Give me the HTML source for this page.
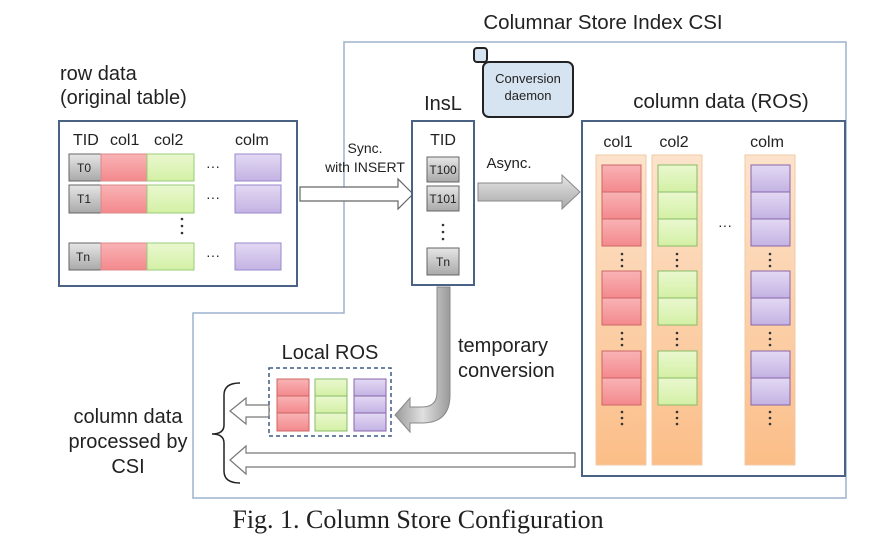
<!DOCTYPE html>
<html><head><meta charset="utf-8"><style>
body{margin:0;background:#fff}
svg{display:block}
text{font-family:"Liberation Sans",sans-serif;fill:#222}
</style></head><body>
<svg width="874" height="552" viewBox="0 0 874 552">
<defs>
<linearGradient id="r" x1="0" y1="0" x2="0" y2="1"><stop offset="0" stop-color="#f9b3b5"/><stop offset="1" stop-color="#f3898d"/></linearGradient>
<linearGradient id="g" x1="0" y1="0" x2="0" y2="1"><stop offset="0" stop-color="#eaf8cf"/><stop offset="1" stop-color="#d3f0a5"/></linearGradient>
<linearGradient id="p" x1="0" y1="0" x2="0" y2="1"><stop offset="0" stop-color="#e3d9f3"/><stop offset="1" stop-color="#c3b2e3"/></linearGradient>
<linearGradient id="gr" x1="0" y1="0" x2="0" y2="1"><stop offset="0" stop-color="#e6e6e6"/><stop offset="1" stop-color="#a9a9a9"/></linearGradient>
<linearGradient id="gv" x1="0" y1="0" x2="1" y2="0"><stop offset="0" stop-color="#9a9a9a"/><stop offset="0.5" stop-color="#e0e0e0"/><stop offset="1" stop-color="#9a9a9a"/></linearGradient>
<linearGradient id="or" x1="0" y1="0" x2="0" y2="1"><stop offset="0" stop-color="#fde3cc"/><stop offset="1" stop-color="#fbbe88"/></linearGradient>
</defs>

<path d="M344 42 H846 V498 H193 V313 H344 Z" fill="none" stroke="#9db3cd" stroke-width="1.5"/>
<text x="603" y="29" font-size="20.5" text-anchor="middle">Columnar Store Index CSI</text>

<text x="60" y="80" font-size="20">row data</text>
<text x="60" y="104" font-size="20">(original table)</text>

<rect x="59" y="121" width="238" height="165" fill="#fff" stroke="#4a6385" stroke-width="2"/>
<g font-size="16">
<text x="73" y="145">TID</text><text x="110" y="145">col1</text><text x="154" y="145">col2</text><text x="235" y="145">colm</text>
</g>
<g stroke-width="1">
<rect x="69" y="154" width="32" height="27" fill="url(#gr)" stroke="#666"/>
<rect x="101" y="154" width="46" height="27" fill="url(#r)" stroke="#d88"/>
<rect x="147" y="154" width="47" height="27" fill="url(#g)" stroke="#9c7"/>
<rect x="235" y="154" width="46" height="27" fill="url(#p)" stroke="#98c"/>
<rect x="69" y="185" width="32" height="28" fill="url(#gr)" stroke="#666"/>
<rect x="101" y="185" width="46" height="28" fill="url(#r)" stroke="#d88"/>
<rect x="147" y="185" width="47" height="28" fill="url(#g)" stroke="#9c7"/>
<rect x="235" y="185" width="46" height="28" fill="url(#p)" stroke="#98c"/>
<rect x="69" y="243" width="32" height="27" fill="url(#gr)" stroke="#666"/>
<rect x="101" y="243" width="46" height="27" fill="url(#r)" stroke="#d88"/>
<rect x="147" y="243" width="47" height="27" fill="url(#g)" stroke="#9c7"/>
<rect x="235" y="243" width="46" height="27" fill="url(#p)" stroke="#98c"/>
</g>
<g font-size="12"><text x="77" y="172">T0</text><text x="77" y="203">T1</text><text x="76" y="261">Tn</text></g>
<g font-size="14"><text x="206" y="171">···</text><text x="206" y="202">···</text><text x="206" y="260">···</text></g>
<g fill="#333"><circle cx="182" cy="219" r="1.3"/><circle cx="182" cy="226" r="1.3"/><circle cx="182" cy="233" r="1.3"/></g>

<path d="M300 187 H398 V179 L413 194 L398 209 V201 H300 Z" fill="#fff" stroke="#666" stroke-width="1.2"/>
<text x="365" y="153" font-size="14" text-anchor="middle">Sync.</text>
<text x="365" y="172" font-size="14" text-anchor="middle">with INSERT</text>

<text x="443" y="110" font-size="20" text-anchor="middle">InsL</text>
<rect x="412" y="121" width="62" height="164" fill="#fff" stroke="#4a6385" stroke-width="2"/>
<text x="443" y="145" font-size="16" text-anchor="middle">TID</text>
<rect x="427" y="157" width="32" height="25" fill="url(#gr)" stroke="#666"/>
<rect x="427" y="186" width="32" height="25" fill="url(#gr)" stroke="#666"/>
<rect x="427" y="248" width="32" height="27" fill="url(#gr)" stroke="#666"/>
<g font-size="12" text-anchor="middle"><text x="443" y="174">T100</text><text x="443" y="203">T101</text><text x="443" y="266">Tn</text></g>
<g fill="#333"><circle cx="443" cy="225" r="1.3"/><circle cx="443" cy="232" r="1.3"/><circle cx="443" cy="239" r="1.3"/></g>

<rect x="483" y="62" width="90" height="55" rx="6" fill="#d6e3f0" stroke="#222" stroke-width="2"/>
<rect x="474" y="48" width="13" height="14" rx="3" fill="#d6e3f0" stroke="#222" stroke-width="2"/>
<text x="528" y="83" font-size="13" text-anchor="middle" fill="#444">Conversion</text>
<text x="528" y="100" font-size="13" text-anchor="middle" fill="#444">daemon</text>

<text x="509" y="168" font-size="15" text-anchor="middle">Async.</text>
<path d="M478 183 H562 V175 L580 192 L562 209 V201 H478 Z" fill="url(#gr)" stroke="#888"/>

<text x="721" y="108" font-size="20.5" text-anchor="middle">column data (ROS)</text>
<rect x="582" y="121" width="263" height="355" fill="#fff" stroke="#4a6385" stroke-width="2"/>
<g font-size="16" text-anchor="middle"><text x="618" y="147">col1</text><text x="674" y="147">col2</text><text x="767" y="147">colm</text></g>
<rect x="596" y="155" width="50" height="310" fill="url(#or)" stroke="#f0c9a5"/>
<rect x="652" y="155" width="50" height="310" fill="url(#or)" stroke="#f0c9a5"/>
<rect x="745" y="155" width="50" height="310" fill="url(#or)" stroke="#f0c9a5"/>
<g stroke="#c66"><rect x="602" y="165" width="39" height="27" fill="url(#r)"/><rect x="602" y="192" width="39" height="27" fill="url(#r)"/><rect x="602" y="219" width="39" height="27" fill="url(#r)"/><rect x="602" y="271" width="39" height="27" fill="url(#r)"/><rect x="602" y="298" width="39" height="27" fill="url(#r)"/><rect x="602" y="351" width="39" height="27" fill="url(#r)"/><rect x="602" y="378" width="39" height="27" fill="url(#r)"/></g>
<g stroke="#8b6"><rect x="658" y="165" width="39" height="27" fill="url(#g)"/><rect x="658" y="192" width="39" height="27" fill="url(#g)"/><rect x="658" y="219" width="39" height="27" fill="url(#g)"/><rect x="658" y="271" width="39" height="27" fill="url(#g)"/><rect x="658" y="298" width="39" height="27" fill="url(#g)"/><rect x="658" y="351" width="39" height="27" fill="url(#g)"/><rect x="658" y="378" width="39" height="27" fill="url(#g)"/></g>
<g stroke="#86a"><rect x="751" y="165" width="39" height="27" fill="url(#p)"/><rect x="751" y="192" width="39" height="27" fill="url(#p)"/><rect x="751" y="219" width="39" height="27" fill="url(#p)"/><rect x="751" y="271" width="39" height="27" fill="url(#p)"/><rect x="751" y="298" width="39" height="27" fill="url(#p)"/><rect x="751" y="351" width="39" height="27" fill="url(#p)"/><rect x="751" y="378" width="39" height="27" fill="url(#p)"/></g>
<g fill="#333">
<circle cx="622" cy="254" r="1.3"/><circle cx="622" cy="260" r="1.3"/><circle cx="622" cy="266" r="1.3"/>
<circle cx="622" cy="333" r="1.3"/><circle cx="622" cy="339" r="1.3"/><circle cx="622" cy="345" r="1.3"/>
<circle cx="622" cy="412" r="1.3"/><circle cx="622" cy="418" r="1.3"/><circle cx="622" cy="424" r="1.3"/>
<circle cx="677" cy="254" r="1.3"/><circle cx="677" cy="260" r="1.3"/><circle cx="677" cy="266" r="1.3"/>
<circle cx="677" cy="333" r="1.3"/><circle cx="677" cy="339" r="1.3"/><circle cx="677" cy="345" r="1.3"/>
<circle cx="677" cy="412" r="1.3"/><circle cx="677" cy="418" r="1.3"/><circle cx="677" cy="424" r="1.3"/>
<circle cx="770" cy="254" r="1.3"/><circle cx="770" cy="260" r="1.3"/><circle cx="770" cy="266" r="1.3"/>
<circle cx="770" cy="333" r="1.3"/><circle cx="770" cy="339" r="1.3"/><circle cx="770" cy="345" r="1.3"/>
<circle cx="770" cy="412" r="1.3"/><circle cx="770" cy="418" r="1.3"/><circle cx="770" cy="424" r="1.3"/>
</g>
<text x="718" y="230" font-size="14">···</text>

<path d="M437 287 H450 V395 Q450 423 422 423 H410 V432 L395 415 L410 398 V407 H422 Q437 407 437 392 Z" fill="url(#gv)" stroke="#888"/>
<text x="458" y="352" font-size="20">temporary</text>
<text x="458" y="377" font-size="20">conversion</text>

<text x="330" y="359" font-size="20" text-anchor="middle">Local ROS</text>
<rect x="269" y="368" width="122" height="68" fill="none" stroke="#3b5a85" stroke-width="1.5" stroke-dasharray="4,3"/>
<g stroke="#c66"><rect x="277" y="379" width="32" height="17" fill="url(#r)"/><rect x="277" y="396" width="32" height="17" fill="url(#r)"/><rect x="277" y="413" width="32" height="18" fill="url(#r)"/></g>
<g stroke="#8b6"><rect x="315" y="379" width="32" height="17" fill="url(#g)"/><rect x="315" y="396" width="32" height="17" fill="url(#g)"/><rect x="315" y="413" width="32" height="18" fill="url(#g)"/></g>
<g stroke="#86a"><rect x="354" y="379" width="32" height="17" fill="url(#p)"/><rect x="354" y="396" width="32" height="17" fill="url(#p)"/><rect x="354" y="413" width="32" height="18" fill="url(#p)"/></g>

<path d="M269 405 H246 V398 L230 411 L246 424 V417 H269 Z" fill="#fff" stroke="#777" stroke-width="1.2"/>
<path d="M575 453 H246 V446 L230 460 L246 474 V467 H575 Z" fill="#fff" stroke="#777" stroke-width="1.2"/>
<path d="M240 383 Q224 383 224 395 V425 Q224 434 212 434 Q224 434 224 443 V471 Q224 483 240 483" fill="none" stroke="#222" stroke-width="1.5"/>

<g font-size="20" text-anchor="middle">
<text x="128" y="423">column data</text>
<text x="128" y="448">processed by</text>
<text x="128" y="473">CSI</text>
</g>

<text x="418" y="528" font-size="26" text-anchor="middle" style="font-family:'Liberation Serif',serif">Fig. 1. Column Store Configuration</text>
</svg>
</body></html>
